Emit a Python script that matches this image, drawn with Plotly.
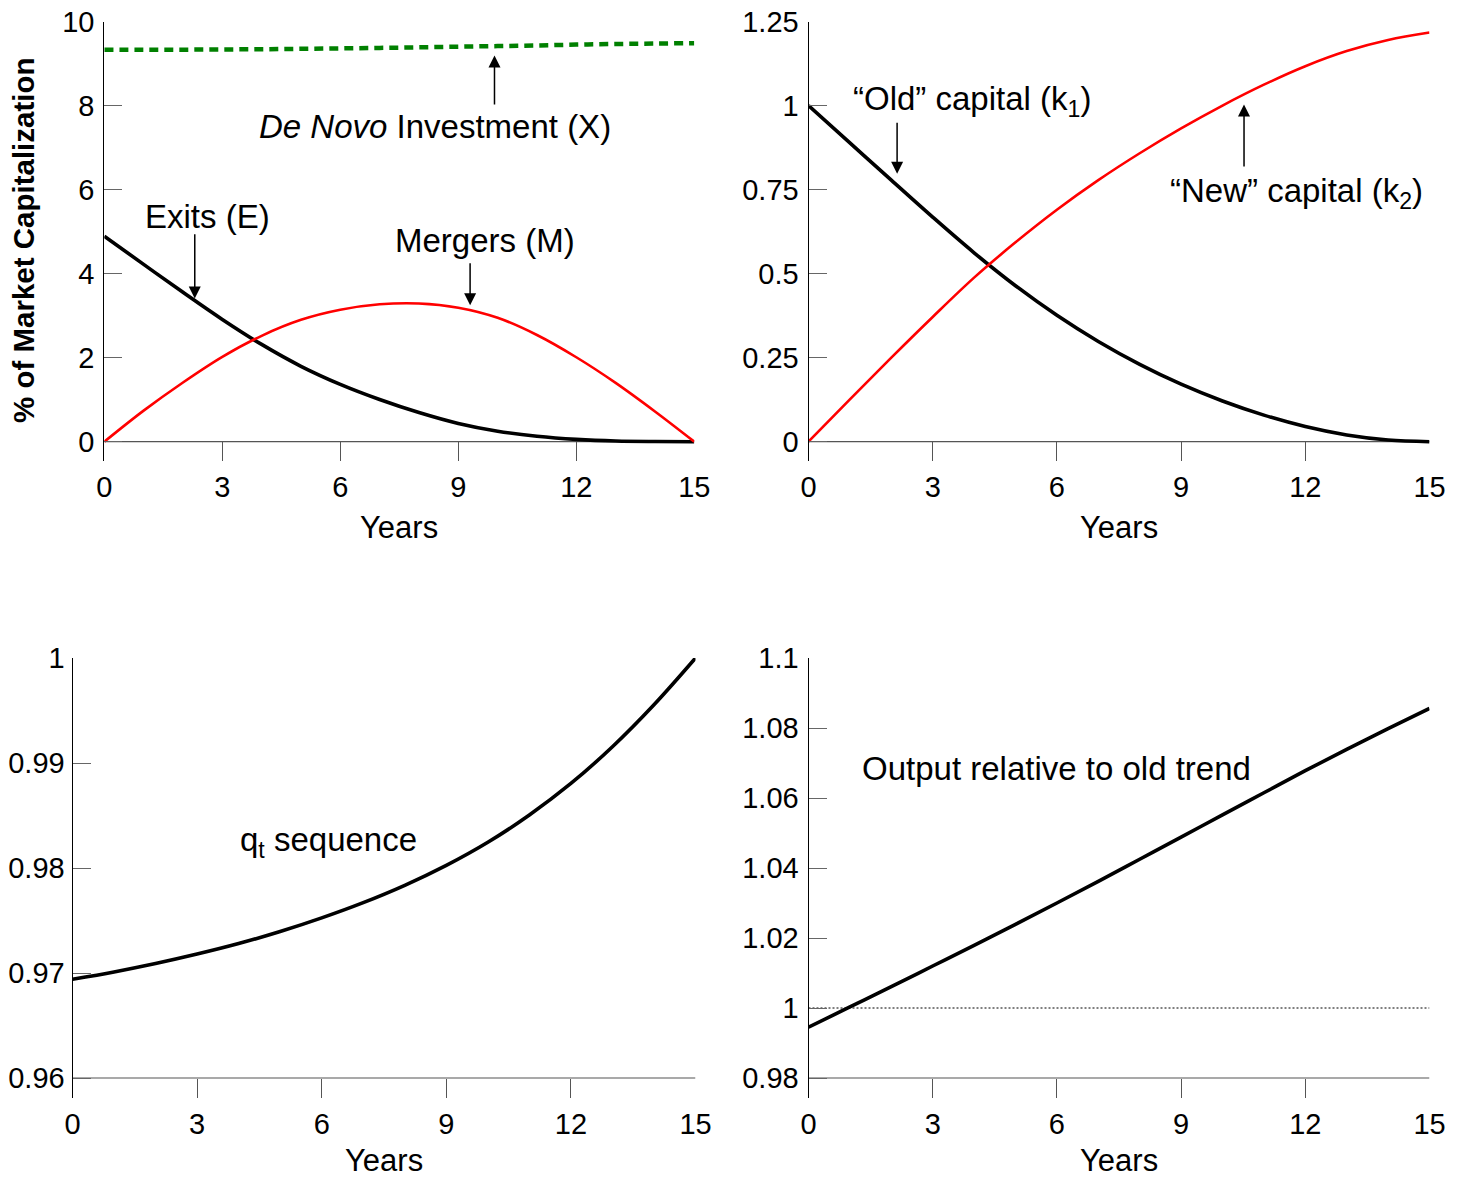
import plotly.graph_objects as go

# ---------------- data ----------------
years = list(range(16))
x_ticks = [0, 3, 6, 9, 12, 15]

exits = [4.89, 4.22, 3.555, 2.91, 2.315, 1.795, 1.365, 1.005, 0.695, 0.435, 0.25, 0.13, 0.055, 0.015, 0.003, 0.0]
mergers = [0.0, 0.74, 1.41, 2.02, 2.52, 2.90, 3.14, 3.27, 3.29, 3.19, 2.95, 2.54, 2.01, 1.40, 0.72, 0.0]
denovo = [9.33, 9.33, 9.33, 9.335, 9.34, 9.35, 9.36, 9.372, 9.385, 9.40, 9.415, 9.43, 9.45, 9.465, 9.475, 9.485]

k1_old = [1.0, 0.889, 0.778, 0.668, 0.562, 0.464, 0.376, 0.298, 0.230, 0.171, 0.121, 0.079, 0.045, 0.020, 0.005, 0.0]
k2_new = [0.0, 0.126, 0.25, 0.371, 0.488, 0.593, 0.69, 0.778, 0.858, 0.932, 1.0, 1.062, 1.117, 1.162, 1.195, 1.217]

q_seq = [0.9694, 0.9701, 0.9709, 0.9718, 0.9728, 0.97395, 0.97525, 0.9767, 0.97835, 0.98025,
         0.98245, 0.98505, 0.98805, 0.99155, 0.99555, 1.0]
output_rel = [0.9945, 1.0003, 1.0061, 1.0120, 1.0179, 1.0239, 1.0300, 1.0362, 1.0425, 1.0488,
              1.0552, 1.0615, 1.0678, 1.0739, 1.0798, 1.0856]
old_trend = 1.0

y1_ticks = [0, 2, 4, 6, 8, 10]
y2_ticks = [0, 0.25, 0.5, 0.75, 1, 1.25]
y2_text = ["0", "0.25", "0.5", "0.75", "1", "1.25"]
y3_ticks = [0.96, 0.97, 0.98, 0.99, 1.0]
y3_text = ["0.96", "0.97", "0.98", "0.99", "1"]
y4_ticks = [0.98, 1.0, 1.02, 1.04, 1.06, 1.08, 1.1]
y4_text = ["0.98", "1", "1.02", "1.04", "1.06", "1.08", "1.1"]

# ---------------- layout helpers ----------------
PAGE_W, PAGE_H = 1466, 1179
OFF = 8  # default page margin around the plot div
W, H = PAGE_W - 2 * OFF, PAGE_H - 2 * OFF
FONT = "Liberation Sans, Arial, Helvetica, sans-serif"

def px_x(a):
    return (a - OFF) / W

def px_y(b):
    return 1 - (b - OFF) / H

def xd(a, b):
    return [px_x(a), px_x(b)]

def yd(top, bottom):
    return [px_y(bottom), px_y(top)]

def yrange(vmin, vmax, top_px, zero_px, ext_px):
    ppu = (zero_px - top_px) / (vmax - vmin)
    return [vmin - ext_px / ppu, vmax]

fig = go.Figure()

BLACK_W = 3.6
RED_W = 2.6
SM = 1.0

fig.add_trace(go.Scatter(x=years, y=denovo, mode="lines", xaxis="x", yaxis="y",
                         line=dict(color="#008000", width=4.5, dash="9px,6px", shape="spline", smoothing=SM)))
fig.add_trace(go.Scatter(x=years, y=exits, mode="lines", xaxis="x", yaxis="y",
                         line=dict(color="black", width=BLACK_W, shape="spline", smoothing=SM)))
fig.add_trace(go.Scatter(x=years, y=mergers, mode="lines", xaxis="x", yaxis="y",
                         line=dict(color="#ff0000", width=RED_W, shape="spline", smoothing=SM)))

fig.add_trace(go.Scatter(x=years, y=k1_old, mode="lines", xaxis="x2", yaxis="y2",
                         line=dict(color="black", width=BLACK_W, shape="spline", smoothing=SM)))
fig.add_trace(go.Scatter(x=years, y=k2_new, mode="lines", xaxis="x2", yaxis="y2",
                         line=dict(color="#ff0000", width=RED_W, shape="spline", smoothing=SM)))

fig.add_trace(go.Scatter(x=years, y=q_seq, mode="lines", xaxis="x3", yaxis="y3",
                         line=dict(color="black", width=BLACK_W, shape="spline", smoothing=SM)))

fig.add_trace(go.Scatter(x=[years[0], years[-1]], y=[old_trend, old_trend], mode="lines", xaxis="x4", yaxis="y4",
                         line=dict(color="black", width=1, dash="2px,2px")))
fig.add_trace(go.Scatter(x=years, y=output_rel, mode="lines", xaxis="x4", yaxis="y4",
                         line=dict(color="black", width=BLACK_W, shape="spline", smoothing=SM)))

tickfont = dict(family=FONT, size=29, color="black")

def xaxis(dom, anchor):
    return dict(domain=dom, anchor=anchor, range=[0, 15], tickvals=x_ticks,
                ticks="inside", ticklen=19, tickwidth=1, tickcolor="#555",
                showline=False, showgrid=False, zeroline=False, automargin=False,
                tickfont=tickfont, ticklabelstandoff=6, ticklabeloverflow="allow")

def yaxis(dom, anchor, rng, vals, text=None, standoff=3):
    d = dict(domain=dom, anchor=anchor, range=rng, tickvals=vals,
             ticks="inside", ticklen=18, tickwidth=1, tickcolor="#666",
             showline=True, linecolor="black", linewidth=1, automargin=False,
             showgrid=False, zeroline=False, tickfont=tickfont, ticklabelstandoff=standoff,
             ticklabeloverflow="allow")
    if text is not None:
        d["ticktext"] = text
    return d

TOP_T, TOP_Z, EXT = 21.5, 441.7, 19.5
BOT_T, BOT_Z = 658, 1078
XL_TL, XR_TL = 104.3, 694.3
XL_R, XR_R = 808.5, 1429.5
XL_BL, XR_BL = 72.5, 695.5

fig.update_layout(
    width=W, height=H, margin=dict(l=0, r=0, t=0, b=0, autoexpand=False),
    paper_bgcolor="white", plot_bgcolor="white", showlegend=False,
    font=dict(family=FONT, color="black"),
    xaxis=xaxis(xd(XL_TL, XR_TL), "y"),
    yaxis=yaxis(yd(TOP_T, TOP_Z + EXT), "x", yrange(0, 10, TOP_T, TOP_Z, EXT), y1_ticks),
    xaxis2=xaxis(xd(XL_R, XR_R), "y2"),
    yaxis2=yaxis(yd(TOP_T, TOP_Z + EXT), "x2", yrange(0, 1.25, TOP_T, TOP_Z, EXT), y2_ticks, y2_text),
    xaxis3=xaxis(xd(XL_BL, XR_BL), "y3"),
    yaxis3=yaxis(yd(BOT_T, BOT_Z + EXT), "x3", yrange(0.96, 1.0, BOT_T, BOT_Z, EXT), y3_ticks, y3_text,
                 standoff=1),
    xaxis4=xaxis(xd(XL_R, XR_R), "y4"),
    yaxis4=yaxis(yd(BOT_T, BOT_Z + EXT), "x4", yrange(0.98, 1.1, BOT_T, BOT_Z, EXT), y4_ticks, y4_text),
)

# baseline (x-axis) lines at bottom value of each panel
for xr, yr, base in [("x", "y", 0), ("x2", "y2", 0), ("x3", "y3", 0.96), ("x4", "y4", 0.98)]:
    fig.add_shape(type="line", xref=xr, yref=yr, x0=0, x1=15, y0=base, y1=base,
                  line=dict(color="#555", width=1.2), layer="below")

# axis titles (as paper-positioned text)
tfont = dict(family=FONT, size=31, color="black")
for xa, xb, yc in [(XL_TL, XR_TL, 527), (XL_R, XR_R, 527), (XL_BL, XR_BL, 1160), (XL_R, XR_R, 1160)]:
    fig.add_annotation(xref="paper", yref="paper", x=px_x((xa + xb) / 2), y=px_y(yc),
                       text="Years", showarrow=False, xanchor="center", yanchor="middle", font=tfont)
fig.add_annotation(xref="paper", yref="paper", x=px_x(23), y=px_y(240), textangle=-90,
                   text="<b>% of Market Capitalization</b>", showarrow=False,
                   xanchor="center", yanchor="middle", font=dict(family=FONT, size=29.5, color="black"))

# text labels
afont = dict(family=FONT, size=33, color="black")
labels = [
    ("x", "y", 2.62, 5.37, "Exits (E)"),
    ("x", "y", 9.69, 4.80, "Mergers (M)"),
    ("x", "y", 8.42, 7.51, "<i>De Novo</i> Investment (X)"),
    ("x2", "y2", 3.96, 1.015, "“Old” capital (k<sub>1</sub>)"),
    ("x2", "y2", 11.79, 0.741, "“New” capital (k<sub>2</sub>)"),
    ("x3", "y3", 6.16, 0.9825, "q<sub>t</sub> sequence"),
    ("x4", "y4", 5.99, 1.0683, "Output relative to old trend"),
]
for xr, yr, x, y, t in labels:
    fig.add_annotation(xref=xr, yref=yr, x=x, y=y, text=t, showarrow=False,
                       xanchor="center", yanchor="middle", font=afont)

# arrows: (axis, head x, head y, tail x, tail y)
arrows = [
    ("x", "y", 2.30, 3.41, 2.30, 4.97),
    ("x", "y", 9.30, 3.25, 9.30, 4.28),
    ("x", "y", 9.92, 9.19, 9.92, 7.99),
    ("x2", "y2", 2.14, 0.797, 2.14, 0.953),
    ("x2", "y2", 10.52, 1.003, 10.52, 0.814),
]
for xr, yr, hx, hy, tx, ty in arrows:
    fig.add_annotation(xref=xr, yref=yr, axref=xr, ayref=yr, x=hx, y=hy, ax=tx, ay=ty,
                       text="", showarrow=True, arrowhead=2, arrowsize=1.6, arrowwidth=1.5,
                       arrowcolor="black", standoff=0, startstandoff=0)

fig.write_html("out.html")
